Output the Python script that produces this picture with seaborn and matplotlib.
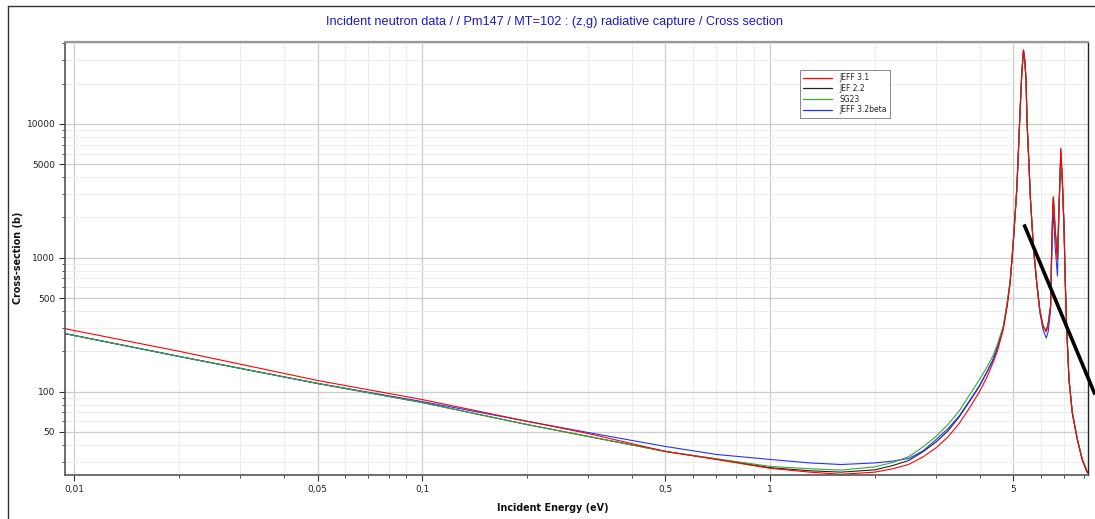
import matplotlib
matplotlib.use("Agg")
import matplotlib.pyplot as plt
import matplotlib.ticker as mticker
from matplotlib.lines import Line2D
import numpy as np
import pandas as pd
import seaborn as sns

# ---------------- data ----------------
energy = [0.0094, 0.02, 0.05, 0.1, 0.2, 0.3, 0.5, 0.7, 1.0, 1.3,
          1.6, 2.0, 2.25, 2.5, 2.75, 3.0, 3.25, 3.5, 3.75, 4.0,
          4.2, 4.37, 4.5, 4.68, 4.8, 4.9, 5.0, 5.06, 5.12, 5.17,
          5.22, 5.29, 5.35, 5.40, 5.44, 5.48, 5.55, 5.60, 5.71, 5.84,
          5.96, 6.09, 6.22, 6.30, 6.40, 6.45, 6.49, 6.52, 6.60, 6.70,
          6.77, 6.85, 6.92, 7.0, 7.05, 7.12, 7.23, 7.39, 7.64, 7.89,
          8.17]

jeff31 = [295, 200, 121, 87.2, 60, 48.6, 35.7, 31.1, 26.7, 25.0,
          24.1, 25.0, 26.5, 28.5, 32.5, 38.0, 46, 58, 76, 100,
          128, 164, 200, 290, 430, 655, 1300, 2050, 3300, 6000,
          11000, 23900, 35600, 29200, 21300, 10100, 4870, 2800, 1220, 655,
          409, 307, 280, 320, 433, 1220, 2200, 2860, 1600, 971,
          2500, 6590, 3820, 1630, 700, 300, 123, 69.3, 43.8, 31,
          24.7]

jef22 = [271, 183, 115, 82.8, 56.7, 46.2, 35.7, 31.3, 27.0, 25.6,
         25.0, 26.0, 28.0, 30.5, 35.5, 42.0, 51, 65, 85, 110,
         140, 172, 212, 300, 445, 665, 1310, 2060, 3300, 6000,
         11000, 23900, 35300, 29200, 21300, 10100, 4870, 2800, 1220, 655,
         409, 308, 282, 322, 433, 1210, 2170, 2820, 1600, 980,
         2450, 5800, 3650, 1610, 700, 300, 124, 69.6, 44.0, 31.2,
         24.8]

sg23 = [271, 183, 115, 82.8, 56.7, 46.2, 35.7, 31.5, 27.6, 26.5,
        25.9, 27.4, 29.5, 32.6, 38.5, 46.3, 57, 72, 95, 123,
        152, 185, 225, 310, 460, 680, 1320, 2080, 3300, 6000,
        11000, 23900, 35000, 29200, 21300, 10100, 4870, 2800, 1220, 655,
        409, 310, 285, 325, 433, 1200, 2150, 2800, 1600, 990,
        2400, 5700, 3600, 1600, 700, 300, 125, 70, 44.5, 31.5,
        25]

jeff32beta = [271, 183, 115, 84.2, 60, 49.4, 38.9, 33.9, 31.1, 29.3,
              28.5, 29.3, 30.2, 31.6, 36.0, 43.8, 53, 66, 86, 111,
              140, 172, 213, 300, 445, 660, 1300, 2050, 3300, 6000,
              11000, 23900, 35600, 29200, 21300, 10100, 4870, 2800, 1220, 640,
              390, 290, 251, 280, 400, 1000, 1800, 2150, 1200, 729,
              2300, 6400, 3820, 1630, 700, 300, 123, 69.3, 43.8, 31,
              24.7]

series_names = ["JEFF 3.1", "JEF 2.2", "SG23", "JEFF 3.2beta"]
series_colors = {"JEFF 3.1": "#ff0000", "JEF 2.2": "#222222",
                 "SG23": "#3aa83a", "JEFF 3.2beta": "#2233ff"}
draw_order = ["JEF 2.2", "JEFF 3.2beta", "SG23", "JEFF 3.1"]

annot_energy = [5.37, 8.59]
annot_sigma = [1773, 95]

x_ticks = [0.01, 0.05, 0.1, 0.5, 1, 5]
x_ticklabels = ["0,01", "0,05", "0,1", "0,5", "1", "5"]
y_ticks = [50, 100, 500, 1000, 5000, 10000]
y_ticklabels = ["50", "100", "500", "1000", "5000", "10000"]

title = "Incident neutron data / / Pm147 / MT=102 : (z,g) radiative capture / Cross section"
xlabel = "Incident Energy (eV)"
ylabel = "Cross-section (b)"

# ---------------- build table ----------------
values = {"JEFF 3.1": jeff31, "JEF 2.2": jef22, "SG23": sg23, "JEFF 3.2beta": jeff32beta}
df = pd.concat([pd.DataFrame({"energy": energy, "sigma": values[n], "lib": n})
                for n in series_names], ignore_index=True)

# ---------------- figure ----------------
sns.set_theme(style="white")
plt.rcParams["font.family"] = ["DejaVu Sans"]

W, H = 1095, 519
fig = plt.figure(figsize=(W / 100, H / 100), dpi=100)
L, R, T, B = 65, 1088, 42, 475
ax = fig.add_axes([L / W, 1 - B / H, (R - L) / W, (B - T) / H])

for n in draw_order:
    sns.lineplot(data=df[df["lib"] == n], x="energy", y="sigma", ax=ax,
                 color=series_colors[n], linewidth=0.8, sort=False,
                 estimator=None, legend=False)

ax.plot(annot_energy, annot_sigma, color="black", linewidth=2.6,
        clip_on=False, solid_capstyle="butt", zorder=5)

ax.set_xscale("log")
ax.set_yscale("log")
ax.set_xlim(0.0094, 8.2)
ax.set_ylim(23.8, 40900)

ax.xaxis.set_major_locator(mticker.FixedLocator(x_ticks))
ax.xaxis.set_major_formatter(mticker.FixedFormatter(x_ticklabels))
ax.yaxis.set_major_locator(mticker.FixedLocator(y_ticks))
ax.yaxis.set_major_formatter(mticker.FixedFormatter(y_ticklabels))
ax.xaxis.set_minor_locator(mticker.LogLocator(base=10, subs=np.arange(2, 10), numticks=20))
ax.yaxis.set_minor_locator(mticker.LogLocator(base=10, subs=np.arange(2, 10), numticks=20))
ax.xaxis.set_minor_formatter(mticker.NullFormatter())
ax.yaxis.set_minor_formatter(mticker.NullFormatter())

ax.grid(which="major", color="#cccccc", linewidth=0.9)
ax.grid(which="minor", color="#ededed", linewidth=0.7)
ax.set_axisbelow(True)

ax.tick_params(axis="both", which="major", direction="out", length=4, width=0.8,
               color="#333333", labelsize=6.5, labelcolor="#222222", pad=3,
               bottom=True, left=True)
ax.tick_params(axis="both", which="minor", direction="out", length=2.5, width=0.6,
               color="#333333", bottom=True, left=True)

for side in ["left", "bottom"]:
    ax.spines[side].set_color("#555555")
    ax.spines[side].set_linewidth(1.2)
ax.spines["top"].set_color("#999999")
ax.spines["top"].set_linewidth(1.6)
ax.spines["right"].set_color("#222222")
ax.spines["right"].set_linewidth(1.0)

ax.set_xlabel("")
ax.set_ylabel("")
fig.text(553 / W, 1 - 508 / H, xlabel, ha="center", va="center",
         fontsize=6.9, fontweight="bold", color="#111111")
fig.text(18 / W, 1 - 258 / H, ylabel, ha="center", va="center", rotation=90,
         fontsize=6.9, fontweight="bold", color="#111111")
fig.text(554 / W, 1 - 22 / H, title, ha="center", va="center",
         fontsize=9.2, color="#1a1acc",
         family=["Liberation Sans Narrow", "Liberation Sans", "DejaVu Sans"])

handles = [Line2D([], [], color=series_colors[n], linewidth=0.9) for n in series_names]
leg = ax.legend(handles, series_names, loc="upper left",
                bbox_to_anchor=(800 / W, 1 - 70 / H), bbox_transform=fig.transFigure,
                fontsize=5.5, frameon=True, fancybox=False, framealpha=1,
                edgecolor="#888888", handlelength=3.8, handletextpad=0.9,
                labelspacing=0.22, borderpad=0.45, borderaxespad=0)
leg.get_frame().set_linewidth(0.7)

# outer frame
fig.add_artist(Line2D([8 / W, 8 / W], [0, 1 - 6 / H], transform=fig.transFigure,
                      color="#333333", linewidth=1.0))
fig.add_artist(Line2D([8 / W, 1], [1 - 6 / H, 1 - 6 / H], transform=fig.transFigure,
                      color="#333333", linewidth=1.0))

fig.savefig("out.png", dpi=100)
